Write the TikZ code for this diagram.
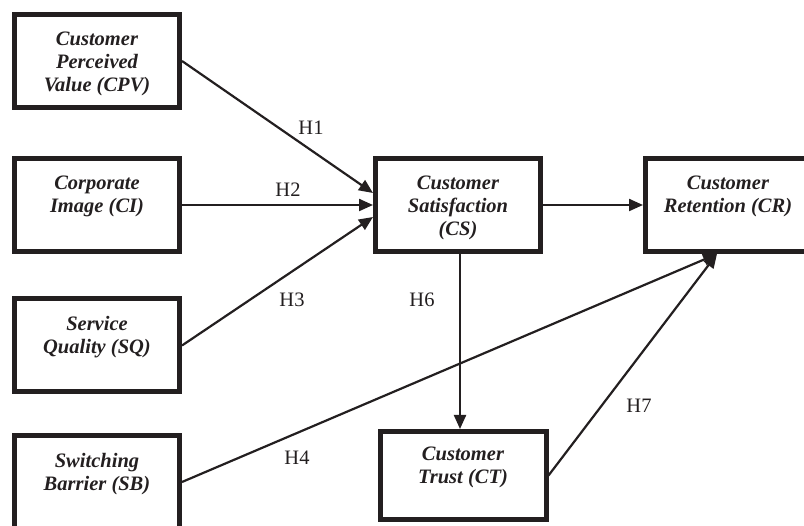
\documentclass[tikz,border=0pt]{standalone}
\usepackage{fontspec}
\setmainfont{Liberation Serif}
\usetikzlibrary{arrows.meta,calc}
\definecolor{ink}{RGB}{35,31,32}
\begin{document}
\begin{tikzpicture}[x=1pt,y=-1pt,
  box/.style={draw=ink, line width=5pt, inner sep=0pt, minimum width=165pt, minimum height=93pt},
  btext/.style={anchor=north, align=center, inner sep=0pt, text=ink,
    font=\fontsize{20.5}{23}\selectfont\bfseries\itshape},
  hyp/.style={inner sep=0pt, text=ink, font=\fontsize{20.5}{24}\selectfont},
  arr/.style={line width=2.2pt, draw=ink, -{Triangle[length=14pt,width=12pt]}}]
\useasboundingbox (0,0) rectangle (804,526);
\clip (0,0) rectangle (804,526);
% boxes
\node[box] (cpv) at (97,61) {};
\node[box] (ci)  at (97,205) {};
\node[box] (sq)  at (97,345.5) {};
\node[box] (sb)  at (97,482) {};
\node[box] (cs)  at (458,205) {};
\node[box] (cr)  at (728,205) {};
\node[box, minimum width=166pt, minimum height=88pt] (ct) at (463,475.5) {};
% texts
\node[btext] (cpvt) at ($(cpv.north)+(0,20)$) {Customer\\Perceived\\Value (CPV)};
\node[btext] (cit)  at ($(ci.north)+(0,20)$) {Corporate\\Image (CI)};
\node[btext] (sqt)  at ($(sq.north)+(0,20)$) {Service\\Quality (SQ)};
\node[btext] (sbt)  at ($(sb.north)+(0,20)$) {Switching\\Barrier (SB)};
\node[btext] (cst)  at ($(cs.north)+(0,20)$) {Customer\\Satisfaction\\(CS)};
\node[btext] (crt)  at ($(cr.north)+(0,20)$) {Customer\\Retention (CR)};
\node[btext] (ctt)  at ($(ct.north)+(0,18)$) {Customer\\Trust (CT)};
% connection points
\coordinate (cs1) at ($(cs.west)+(0,-12)$);
\coordinate (cs3) at ($(cs.west)+(0,12)$);
\coordinate (crin) at ($(cr.south)+(-11,0)$);
% arrows
\draw[arr] (cpv.east) -- (cs1);
\draw[arr] (ci.east) -- (cs.west);
\draw[arr] (sq.east) -- (cs3);
\draw[arr] (sb.east) -- (crin);
\draw[arr] (cs.east) -- (cr.west);
\draw[arr] (cs.south -| 460,0) -- (ct.north -| 460,0);
\draw[arr] (ct.east) -- (crin);
% labels
\node[hyp] (h1) at (311,128) {H1};
\node[hyp] (h2) at (288,190) {H2};
\node[hyp] (h3) at (292,300) {H3};
\node[hyp] (h4) at (297,458) {H4};
\node[hyp] (h6) at (422,300) {H6};
\node[hyp] (h7) at (639,406) {H7};
\end{tikzpicture}
\end{document}
